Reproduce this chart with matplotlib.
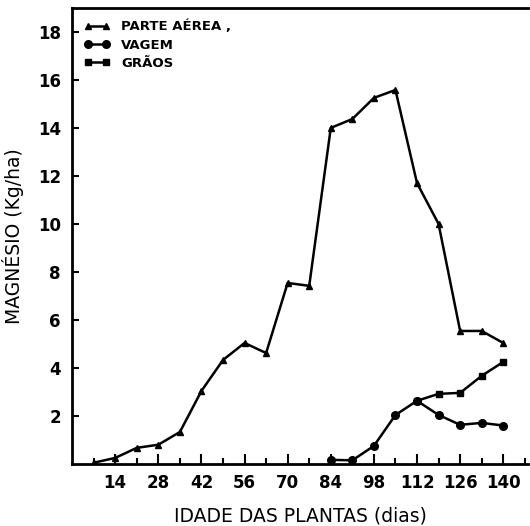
import matplotlib.pyplot as plt

# dias apos emergencia
dias_parte = [7, 14, 21, 28, 35, 42, 49, 56, 63, 70, 77, 84, 91, 98, 105, 112, 119, 126, 133, 140]
parte_aerea = [0.05, 0.25, 0.67, 0.8, 1.33, 3.04, 4.33, 5.04, 4.62, 7.54, 7.42,
               14.0, 14.37, 15.25, 15.58, 11.7, 10.0, 5.54, 5.54, 5.04]

dias_vagem = [84, 91, 98, 105, 112, 119, 126, 133, 140]
vagem = [0.17, 0.15, 0.75, 2.04, 2.63, 2.04, 1.63, 1.71, 1.6]

dias_graos = [112, 119, 126, 133, 140]
graos = [2.63, 2.92, 2.96, 3.67, 4.25]

x_ticks = [14, 28, 42, 56, 70, 84, 98, 112, 126, 140]
y_ticks = [2, 4, 6, 8, 10, 12, 14, 16, 18]

fig = plt.figure(figsize=(5.3, 5.26), dpi=100)
ax = fig.add_axes([0.136, 0.118, 0.86, 0.867])

ax.plot(dias_parte, parte_aerea, color='black', linewidth=1.8, marker='^', markersize=5, label='PARTE AÉREA ,')
ax.plot(dias_vagem, vagem, color='black', linewidth=1.8, marker='o', markersize=5.5, label='VAGEM')
ax.plot(dias_graos, graos, color='black', linewidth=1.8, marker='s', markersize=5, label='GRÃOS')

ax.set_xlim(0, 148)
ax.set_ylim(0, 19)
ax.set_xticks(x_ticks)
ax.set_xticks(range(7, 148, 7), minor=True)
ax.set_yticks(y_ticks)
ax.tick_params(axis='x', direction='in', length=7, width=1.5, labelsize=12, pad=7)
ax.tick_params(axis='x', which='minor', direction='in', length=4, width=1.5)
ax.tick_params(axis='y', direction='in', length=5, width=1.5, labelsize=12, pad=8)
for lab in ax.get_xticklabels() + ax.get_yticklabels():
    lab.set_fontweight('bold')

for s in ['left', 'bottom', 'top']:
    ax.spines[s].set_linewidth(2)
ax.spines['right'].set_visible(False)

ax.set_xlabel('IDADE DAS PLANTAS (dias)', fontsize=13.5, labelpad=11)
ax.set_ylabel('MAGNÉSIO (Kg/ha)', fontsize=13.5, labelpad=10)

leg = ax.legend(loc='upper left', frameon=False, handlelength=2.0, fontsize=9.5, numpoints=2,
                borderaxespad=0.5, labelspacing=0.4, handletextpad=0.8)
for t in leg.get_texts():
    t.set_fontweight('bold')

fig.savefig('out.png', dpi=100)
